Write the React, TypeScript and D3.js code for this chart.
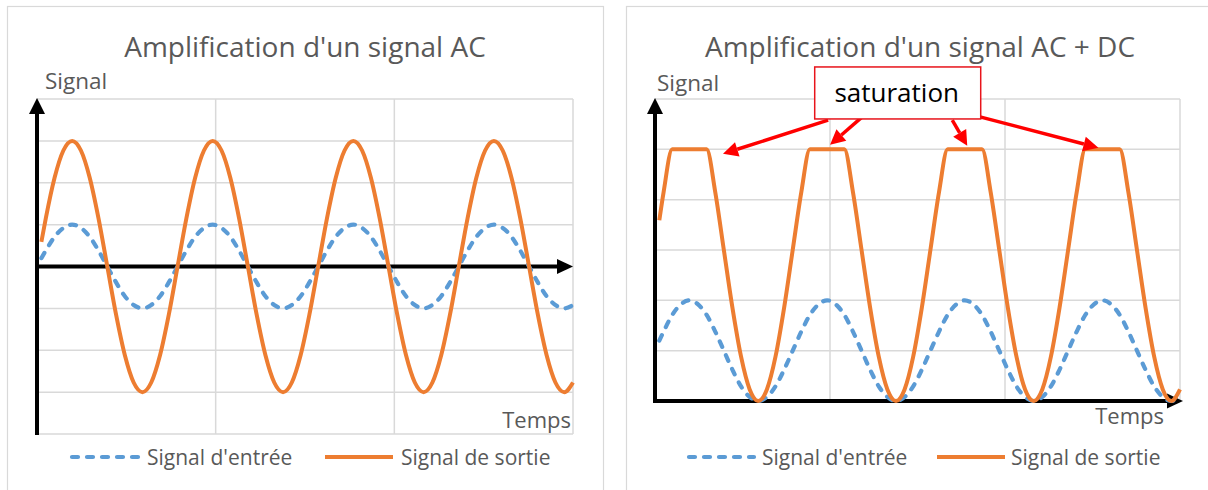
import React from 'react';
import * as d3 from 'd3';

// time samples (arbitrary units, one period = 8)
const time = [0.25, 0.5, 1, 1.5, 2, 2.5, 3, 3.5, 4, 4.5, 5, 5.5, 6, 6.5, 7, 7.5, 8, 8.5, 9, 9.5, 10, 10.5, 11, 11.5, 12, 12.5, 13, 13.5, 14, 14.5, 15, 15.5, 16, 16.5, 17, 17.5, 18, 18.5, 19, 19.5, 20, 20.5, 21, 21.5, 22, 22.5, 23, 23.5, 24, 24.5, 25, 25.5, 26, 26.5, 27, 27.5, 28, 28.5, 29, 29.5, 30, 30.5];
const timeEnd = 30.5;

// left chart: AC signal
const acInput = [0.2, 0.38, 0.71, 0.92, 1, 0.92, 0.71, 0.38, 0, -0.38, -0.71, -0.92, -1, -0.92, -0.71, -0.38, 0, 0.38, 0.71, 0.92, 1, 0.92, 0.71, 0.38, 0, -0.38, -0.71, -0.92, -1, -0.92, -0.71, -0.38, 0, 0.38, 0.71, 0.92, 1, 0.92, 0.71, 0.38, 0, -0.38, -0.71, -0.92, -1, -0.92, -0.71, -0.38, 0, 0.38, 0.71, 0.92, 1, 0.92, 0.71, 0.38, 0, -0.38, -0.71, -0.92, -1, -0.92];
const acOutput = [0.59, 1.15, 2.12, 2.77, 3, 2.77, 2.12, 1.15, 0, -1.15, -2.12, -2.77, -3, -2.77, -2.12, -1.15, 0, 1.15, 2.12, 2.77, 3, 2.77, 2.12, 1.15, 0, -1.15, -2.12, -2.77, -3, -2.77, -2.12, -1.15, 0, 1.15, 2.12, 2.77, 3, 2.77, 2.12, 1.15, 0, -1.15, -2.12, -2.77, -3, -2.77, -2.12, -1.15, 0, 1.15, 2.12, 2.77, 3, 2.77, 2.12, 1.15, 0, -1.15, -2.12, -2.77, -3, -2.77];

// right chart: AC + DC signal (output clipped at 5)
const dcInput = [1.2, 1.38, 1.71, 1.92, 2, 1.92, 1.71, 1.38, 1, 0.62, 0.29, 0.08, 0, 0.08, 0.29, 0.62, 1, 1.38, 1.71, 1.92, 2, 1.92, 1.71, 1.38, 1, 0.62, 0.29, 0.08, 0, 0.08, 0.29, 0.62, 1, 1.38, 1.71, 1.92, 2, 1.92, 1.71, 1.38, 1, 0.62, 0.29, 0.08, 0, 0.08, 0.29, 0.62, 1, 1.38, 1.71, 1.92, 2, 1.92, 1.71, 1.38, 1, 0.62, 0.29, 0.08, 0, 0.08];
const dcOutput = [3.59, 4.15, 5, 5, 5, 5, 5, 4.15, 3, 1.85, 0.88, 0.23, 0, 0.23, 0.88, 1.85, 3, 4.15, 5, 5, 5, 5, 5, 4.15, 3, 1.85, 0.88, 0.23, 0, 0.23, 0.88, 1.85, 3, 4.15, 5, 5, 5, 5, 5, 4.15, 3, 1.85, 0.88, 0.23, 0, 0.23, 0.88, 1.85, 3, 4.15, 5, 5, 5, 5, 5, 4.15, 3, 1.85, 0.88, 0.23, 0, 0.23];

const seriesNames = ["Signal d'entrée", 'Signal de sortie'];
const titles = ["Amplification d'un signal AC", "Amplification d'un signal AC + DC"];
const yLabel = 'Signal';
const xLabel = 'Temps';

// saturation callout, in data units of the right chart
const noteText = 'saturation';
const noteCenter: [number, number] = [14.1, 6.12];
const noteArrows: { from: [number, number]; to: [number, number] }[] = [
  { from: [10.06, 5.58], to: [3.95, 4.91] },
  { from: [12.09, 5.66], to: [10.17, 5.09] },
  { from: [17.27, 5.58], to: [18.14, 5.07] },
  { from: [18.49, 5.68], to: [25.76, 5.03] },
];

const FONT = "'Open Sans', 'Noto Sans', sans-serif";
const TEXT = '#595959';
const GRID = '#d9d9d9';
const BLUE = '#5b9bd5';
const ORANGE = '#ed7d31';

type Box = { left: number; right: number; top: number; bottom: number };

function head(tip: [number, number], from: [number, number], len: number, half: number) {
  const dx = tip[0] - from[0];
  const dy = tip[1] - from[1];
  const d = Math.hypot(dx, dy);
  const ux = dx / d, uy = dy / d;
  const bx = tip[0] - ux * len, by = tip[1] - uy * len;
  const pts = [
    [tip[0], tip[1]],
    [bx - uy * half, by + ux * half],
    [bx + uy * half, by - ux * half],
  ];
  return { base: [bx, by] as [number, number], points: pts.map(p => p.join(',')).join(' ') };
}

interface PanelProps {
  frame: { x: number; w: number };
  plot: Box;
  title: string;
  yDomain: [number, number];
  input: number[];
  output: number[];
  labelY: [number, number];
  labelX: [number, number];
  legend: { dash: [number, number]; text1: number; solid: [number, number]; text2: number };
  xTip: number;
  note?: boolean;
}

const Panel: React.FC<PanelProps> = ({ frame, plot, title, yDomain, input, output, labelY, labelX, legend, xTip, note }) => {
  const x = d3.scaleLinear().domain([0, timeEnd]).range([plot.left, plot.right]);
  const y = d3.scaleLinear().domain(yDomain).range([plot.bottom, plot.top]);
  const line = d3.line<number>()
    .x((_, i) => x(time[i]))
    .y(d => y(d))
    .curve(d3.curveMonotoneX);

  const hTicks = y.ticks(yDomain[1] - yDomain[0]);
  const vTicks = d3.range(4).map(i => (timeEnd * i) / 3);
  const y0 = y(0);

  const yHead = head([plot.left, plot.top - 1], [plot.left, plot.bottom], 16, 8);
  const xHead = head([xTip, y0], [plot.left, y0], 16, 7.5);

  const legendY = 457;
  const dash = '6 9';

  return (
    <g>
      <rect x={frame.x + 0.5} y={6.5} width={frame.w} height={520} fill="#fff" stroke={GRID} strokeWidth={1.2} />
      <text x={frame.x + frame.w / 2} y={57} textAnchor="middle" fontSize={28} fill={TEXT}>{title}</text>
      <text x={labelY[0]} y={labelY[1]} fontSize={22.5} fill={TEXT}>{yLabel}</text>

      {hTicks.map(t => (
        <line key={'h' + t} x1={plot.left} x2={plot.right} y1={y(t)} y2={y(t)} stroke={GRID} strokeWidth={1.5} />
      ))}
      {vTicks.map(t => (
        <line key={'v' + t} x1={x(t)} x2={x(t)} y1={plot.top} y2={plot.bottom} stroke={GRID} strokeWidth={1.5} />
      ))}

      <text x={labelX[0]} y={labelX[1]} textAnchor="end" fontSize={22} fill={TEXT}>{xLabel}</text>

      {/* axes */}
      <line x1={plot.left} x2={plot.left} y1={plot.bottom + 1} y2={yHead.base[1]} stroke="#000" strokeWidth={4} />
      <polygon points={yHead.points} fill="#000" />
      <line x1={plot.left - 2} x2={xHead.base[0]} y1={y0} y2={y0} stroke="#000" strokeWidth={4} />
      <polygon points={xHead.points} fill="#000" />

      <path d={line(input) || ''} fill="none" stroke={BLUE} strokeWidth={4.2} strokeDasharray={dash} strokeLinecap="round" />
      <path d={line(output) || ''} fill="none" stroke={ORANGE} strokeWidth={4} strokeLinejoin="round" />

      {note && (
        <g>
          {noteArrows.map((a, i) => {
            const from: [number, number] = [x(a.from[0]), y(a.from[1])];
            const to: [number, number] = [x(a.to[0]), y(a.to[1])];
            const h = head(to, from, 15, 7.5);
            return (
              <g key={i}>
                <line x1={from[0]} y1={from[1]} x2={h.base[0]} y2={h.base[1]} stroke="#ff0000" strokeWidth={3.5} />
                <polygon points={h.points} fill="#ff0000" />
              </g>
            );
          })}
          <rect x={x(noteCenter[0]) - 83} y={y(noteCenter[1]) - 26} width={166} height={52} fill="#fff" stroke="#e8141b" strokeWidth={1.5} />
          <text x={x(noteCenter[0]) - 1} y={y(noteCenter[1]) + 9} textAnchor="middle" fontSize={26} fill="#000">{noteText}</text>
        </g>
      )}

      {/* legend */}
      <line x1={legend.dash[0]} x2={legend.dash[1]} y1={legendY} y2={legendY} stroke={BLUE} strokeWidth={4.2} strokeDasharray={dash} strokeLinecap="round" />
      <text x={legend.text1} y={legendY + 7.5} fontSize={21} fill={TEXT}>{seriesNames[0]}</text>
      <line x1={legend.solid[0]} x2={legend.solid[1]} y1={legendY} y2={legendY} stroke={ORANGE} strokeWidth={4} />
      <text x={legend.text2} y={legendY + 7.5} fontSize={21} fill={TEXT}>{seriesNames[1]}</text>
    </g>
  );
};

export default function App() {
  return (
    <svg width={1208} height={490} style={{ position: 'absolute', left: 0, top: 0, background: '#fff' }} fontFamily={FONT}>
      <Panel
        frame={{ x: 7, w: 596 }}
        plot={{ left: 37, right: 573, top: 99, bottom: 434 }}
        title={titles[0]}
        yDomain={[-4, 4]}
        input={acInput}
        output={acOutput}
        labelY={[45, 89]}
        labelX={[571, 428]}
        legend={{ dash: [72, 138], text1: 147, solid: [325, 393], text2: 401 }}
        xTip={573}
      />
      <Panel
        frame={{ x: 626, w: 588 }}
        plot={{ left: 655, right: 1180, top: 99, bottom: 401 }}
        title={titles[1]}
        yDomain={[0, 6]}
        input={dcInput}
        output={dcOutput}
        labelY={[657, 91]}
        labelX={[1164, 424]}
        legend={{ dash: [689, 754], text1: 762, solid: [937, 1005], text2: 1011 }}
        xTip={1183}
        note
      />
    </svg>
  );
}
